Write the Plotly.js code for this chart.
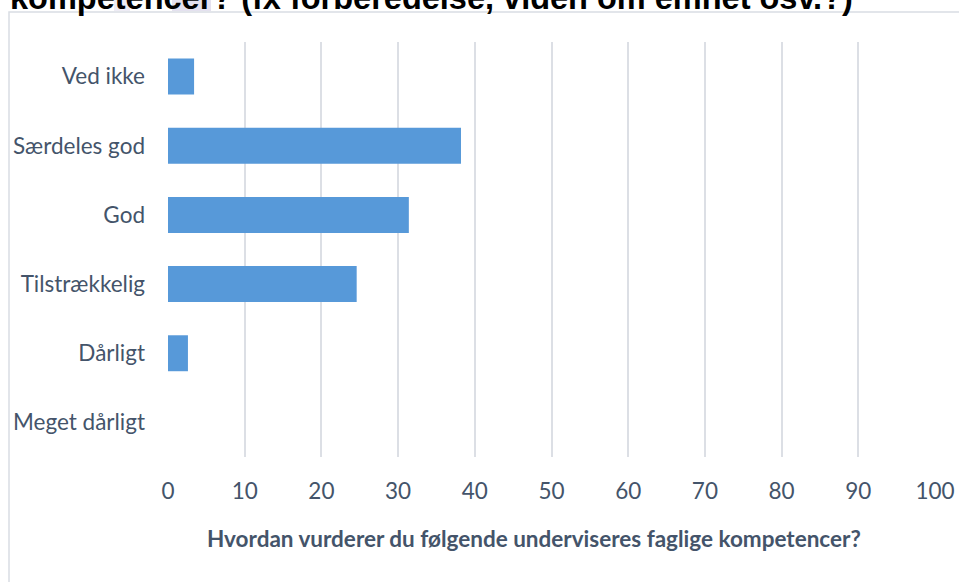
<!DOCTYPE html>
<html>
<head>
<meta charset="utf-8">
<script src="https://cdn.plot.ly/plotly-3.0.1.min.js"></script>
<style>html,body{margin:0;padding:0;background:#fff;}#chart{width:959px;height:582px;}</style>
</head>
<body>
<div id="chart"></div>
<script>
const categories = ["Meget dårligt", "Dårligt", "Tilstrækkelig", "God", "Særdeles god", "Ved ikke"];
const values = [0, 2.6, 24.6, 31.4, 38.2, 3.4];
const xTicks = [0, 10, 20, 30, 40, 50, 60, 70, 80, 90, 100];
const titleText = "kompetencer? (fx forberedelse, viden om emnet osv.?)";
const xTitleText = "Hvordan vurderer du følgende underviseres faglige kompetencer?";

const W = 959, H = 582;
const L = 168, R = 24, T = 42, B = 125;
const pw = W - L - R, ph = H - T - B;
const px = p => (p - L) / pw;
const py = p => (H - B - p) / ph;
const textColor = "#44546a";
const font = "Lato, 'Open Sans', sans-serif";

const trace = {
  type: "bar",
  orientation: "h",
  y: categories,
  x: values,
  marker: {color: "#5799d9", line: {width: 0}},
  hoverinfo: "x+y"
};

const layout = {
  width: W, height: H,
  margin: {l: L, r: R, t: T, b: B, pad: 0},
  paper_bgcolor: "#ffffff",
  plot_bgcolor: "#ffffff",
  bargap: 0.48,
  showlegend: false,
  font: {family: font, color: textColor, size: 22.5},
  xaxis: {
    range: [0, 100],
    tickvals: xTicks,
    ticktext: xTicks.map(String),
    showgrid: true,
    gridcolor: "#dcdfe5",
    gridwidth: 2,
    zeroline: false,
    showline: false,
    ticks: "",
    ticklabelstandoff: 18,
    tickfont: {family: font, size: 22.5, color: textColor},
    fixedrange: true
  },
  yaxis: {
    type: "category",
    categoryorder: "array",
    categoryarray: categories,
    showgrid: false,
    zeroline: false,
    showline: false,
    ticks: "",
    ticklabelstandoff: 22,
    tickfont: {family: font, size: 22.5, color: textColor},
    fixedrange: true
  },
  shapes: [
    {type: "rect", xref: "paper", yref: "paper", x0: px(9), x1: px(975), y0: py(600), y1: py(12),
     line: {color: "#d9dde3", width: 1.5}, fillcolor: "rgba(0,0,0,0)", layer: "below"},
    {type: "rect", xref: "paper", yref: "paper", x0: px(114), x1: px(130), y0: py(11), y1: py(-5),
     line: {width: 0}, fillcolor: "#eeecf5", layer: "below"},
    {type: "rect", xref: "paper", yref: "paper", x0: px(172), x1: px(211), y0: py(11), y1: py(-5),
     line: {width: 0}, fillcolor: "#e4e1ef", layer: "below"}
  ],
  annotations: [
    {text: "<b>" + titleText + "</b>", xref: "paper", yref: "paper",
     x: px(8), y: py(18), xanchor: "left", yanchor: "bottom", showarrow: false,
     font: {family: "'Liberation Sans', Arial, sans-serif", size: 32.5, color: "#000000"}},
    {text: "<b>" + xTitleText + "</b>", xref: "paper", yref: "paper",
     x: px(534), y: py(538), xanchor: "center", yanchor: "middle", showarrow: false,
     font: {family: font, size: 22.5, color: textColor}}
  ]
};

Plotly.newPlot("chart", [trace], layout, {displayModeBar: false, staticPlot: true});
</script>
</body>
</html>
